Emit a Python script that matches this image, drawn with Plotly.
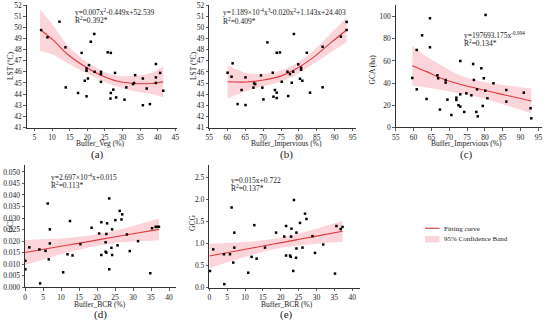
import plotly.graph_objects as go

W, H = 550, 324

# ---------------- data ----------------
# (a) LST vs Buffer_Veg
a_x = [6.9, 8.7, 12.1, 13.8, 13.9, 17.4, 18.4, 19.3, 19.8, 19.8, 19.8, 20.2, 20.5, 21.0, 22.0, 22.1,
       23.9, 23.9, 23.9, 25.8, 26.7, 26.7, 26.6, 27.4, 27.9, 28.2, 30.6, 31.1, 33.0, 33.3, 33.6, 35.8,
       35.8, 36.9, 37.8, 39.5, 39.5, 39.5, 40.7, 41.6]
a_y = [49.75, 49.1, 50.5, 48.2, 44.6, 44.1, 47.7, 45.2, 46.3, 46.1, 43.8, 45.4, 46.6, 48.7, 49.4, 46.0,
       46.0, 45.8, 45.1, 47.75, 47.7, 44.1, 43.6, 44.4, 45.9, 43.7, 43.5, 44.6, 44.9, 45.0, 45.7, 45.4,
       43.0, 44.5, 43.1, 45.5, 46.7, 45.0, 45.9, 44.3]
a_fx = [6.6, 10.5, 14.3, 20.0, 23.9, 28.7, 33.4, 38.2, 41.6]
a_fy = [49.8, 48.8, 47.6, 46.35, 45.7, 45.15, 44.95, 44.95, 45.1]
a_lo = [47.9, 47.5, 46.8, 45.85, 45.25, 44.65, 44.25, 44.0, 43.7]
a_hi = [51.6, 50.1, 48.4, 46.85, 46.15, 45.65, 45.65, 45.9, 46.5]

# (b) LST vs Buffer_Impervious
b_x = [60.1, 61.2, 61.5, 62.9, 64.0, 65.1, 65.1, 67.3, 67.5, 67.8, 69.4, 69.8, 70.1, 71.2, 72.7, 72.9,
       73.3, 73.8, 73.8, 73.8, 74.7, 75.2, 76.8, 77.0, 77.5, 78.0, 78.4, 78.6, 79.8, 80.3, 80.6, 80.6,
       80.95, 82.2, 83.1, 86.6, 86.6, 91.7, 93.3, 93.3]
b_y = [45.93, 45.57, 46.77, 43.12, 44.38, 45.51, 43.03, 44.59, 44.97, 44.91, 45.69, 44.59, 43.54, 48.65,
       45.93, 43.78, 44.38, 44.14, 43.66, 47.72, 47.75, 45.12, 46.02, 43.84, 45.81, 45.03, 46.02, 49.40,
       46.68, 45.39, 46.38, 46.2, 45.21, 47.72, 44.14, 48.26, 44.62, 49.16, 50.48, 49.76]
b_fx = [60.1, 65.4, 70.1, 74.7, 79.4, 84.0, 88.7, 93.3]
b_fy = [45.12, 45.1, 45.27, 45.6, 46.3, 47.3, 48.56, 49.76]
b_lo = [43.62, 44.3, 44.72, 45.1, 45.8, 46.7, 47.71, 48.66]
b_hi = [46.62, 45.9, 45.82, 46.1, 46.8, 47.9, 49.41, 50.86]

# (c) GCA vs Buffer_Impervious
c_x = [59.65, 60.9, 60.9, 62.4, 63.65, 64.6, 64.6, 66.7, 66.9, 67.4, 69.0, 69.0, 69.5, 70.6, 72.0, 72.0,
       72.6, 73.1, 73.1, 73.1, 74.2, 74.8, 76.2, 76.7, 76.9, 77.6, 77.8, 78.0, 79.0, 79.4, 79.7, 80.1,
       80.2, 80.7, 82.4, 86.0, 86.0, 90.9, 92.8, 93.0]
c_y = [44.6, 69.9, 34.3, 83.1, 25.6, 98.5, 72.3, 47.0, 44.3, 16.0, 42.8, 40.4, 25.0, 11.1, 26.8, 24.7,
       19.9, 59.9, 29.8, 18.7, 13.9, 30.7, 28.9, 57.2, 42.8, 13.9, 34.3, 9.9, 53.3, 19.3, 44.3, 33.1,
       101.5, 26.2, 39.8, 33.7, 23.2, 31.3, 17.2, 8.1]
c_fx = [59.65, 63.65, 68.3, 73.0, 77.6, 82.3, 86.9, 93.0]
c_fy = [55.7, 50.3, 43.7, 38.9, 35.2, 31.6, 28.3, 23.8]
c_lo = [37.5, 36.0, 33.5, 30.5, 27.5, 23.5, 19.0, 12.5]
c_hi = [73.5, 64.0, 55.0, 47.0, 42.5, 39.5, 37.5, 35.0]

# (d) GCI vs Buffer_BCR
d_x = [0.1, 0.1, 1.2, 4.0, 4.2, 5.7, 6.3, 6.6, 6.9, 6.9, 10.6, 11.8, 12.5, 13.2, 15.4, 18.5, 20.6, 21.2,
       21.2, 22.4, 22.4, 22.6, 22.6, 22.8, 23.4, 23.4, 24.0, 24.2, 24.2, 25.1, 25.7, 26.3, 26.8, 27.0,
       28.3, 29.1, 31.4, 34.8, 35.3, 36.3, 36.8, 37.2]
d_y = [0.0115, 0.0078, 0.0173, 0.0164, 0.0017, 0.0158, 0.0363, 0.0121, 0.0251, 0.0190, 0.0065, 0.0143,
       0.0287, 0.0138, 0.0187, 0.0258, 0.0233, 0.0282, 0.0140, 0.0195, 0.0154, 0.0150, 0.0231, 0.0277,
       0.0385, 0.0078, 0.0171, 0.0140, 0.0251, 0.0291, 0.0182, 0.0331, 0.0294, 0.0316, 0.0229, 0.0157,
       0.0200, 0.0061, 0.0256, 0.0262, 0.0262, 0.0262]
d_fx = [0, 6, 12, 18, 24, 30, 37.2]
d_fy = [0.0151, 0.0167, 0.0183, 0.0199, 0.0216, 0.0232, 0.0251]
d_lo = [0.0097, 0.0125, 0.0152, 0.0174, 0.0190, 0.0198, 0.0204]
d_hi = [0.0205, 0.0209, 0.0214, 0.0224, 0.0242, 0.0266, 0.0298]

# (e) GCG vs Buffer_BCR
e_x = [0.2, 1.1, 4.1, 4.2, 5.8, 6.25, 6.7, 7.0, 7.0, 10.9, 11.85, 12.6, 13.25, 15.6, 18.7, 21.0, 21.5,
       21.5, 22.6, 22.8, 22.9, 23.0, 23.7, 23.5, 24.3, 24.4, 24.4, 25.4, 26.1, 26.8, 27.2, 28.9, 29.6,
       31.9, 35.2, 35.6, 36.8, 37.3]
e_y = [0.38, 0.87, 0.76, 0.08, 0.76, 1.82, 0.57, 1.25, 0.91, 0.34, 0.70, 1.42, 0.66, 0.91, 1.25, 1.16,
       1.40, 0.73, 0.73, 0.70, 1.16, 1.34, 1.99, 0.38, 0.68, 1.25, 0.89, 1.47, 0.91, 1.68, 1.56, 1.17,
       0.79, 0.98, 0.32, 1.40, 1.33, 1.38]
e_fx = [0, 6, 12, 18, 24, 30, 37.3]
e_fy = [0.72, 0.81, 0.90, 0.99, 1.08, 1.17, 1.28]
e_lo = [0.44, 0.60, 0.75, 0.87, 0.95, 1.00, 1.04]
e_hi = [1.00, 1.02, 1.05, 1.11, 1.21, 1.34, 1.52]

# ---------------- style ----------------
FONT = "Liberation Serif"
TXT = "#1a1a1a"
RED = "#e0393e"
BAND = "rgba(246,150,160,0.40)"
AX = "#333333"


def px(x):
    return x / W


def py(y):
    return 1 - y / H


panels = [
    dict(x=a_x, y=a_y, fx=a_fx, fy=a_fy, lo=a_lo, hi=a_hi, xd=(26.7, 177), yd=(5, 127.5),
         xr=[2.8, 45.5], yr=[41, 52], xt=list(range(5, 46, 5)), yt=list(range(41, 53)), yf=None),
    dict(x=b_x, y=b_y, fx=b_fx, fy=b_fy, lo=b_lo, hi=b_hi, xd=(209.3, 356.3), yd=(5, 127.7),
         xr=[55, 96], yr=[41, 52], xt=list(range(55, 96, 5)), yt=list(range(41, 53)), yf=None),
    dict(x=c_x, y=c_y, fx=c_fx, fy=c_fy, lo=c_lo, hi=c_hi, xd=(395.7, 542), yd=(5, 127.3),
         xr=[55, 96], yr=[0, 110.5], xt=list(range(55, 96, 5)), yt=list(range(0, 101, 20)), yf=None),
    dict(x=d_x, y=d_y, fx=d_fx, fy=d_fy, lo=d_lo, hi=d_hi, xd=(25, 176.2), yd=(165.2, 287.3),
         xr=[0, 42], yr=[0, 0.0529], xt=list(range(0, 41, 5)),
         yt=[0.0, 0.005, 0.01, 0.015, 0.02, 0.025, 0.03, 0.035, 0.04, 0.045, 0.05], yf=".3f"),
    dict(x=e_x, y=e_y, fx=e_fx, fy=e_fy, lo=e_lo, hi=e_hi, xd=(209.3, 360), yd=(165.2, 287.7),
         xr=[0, 42.2], yr=[0, 2.78], xt=list(range(0, 41, 5)), yt=[0, 0.5, 1.0, 1.5, 2.0, 2.5], yf=".1f"),
]

fig = go.Figure()
layout = {}
for i, p in enumerate(panels, start=1):
    sx = "" if i == 1 else str(i)
    xa, ya = "x" + sx, "y" + sx
    fig.add_trace(go.Scatter(x=p["fx"], y=p["lo"], mode="lines", line=dict(width=0, shape="spline"),
                             xaxis=xa, yaxis=ya, showlegend=False, hoverinfo="skip"))
    fig.add_trace(go.Scatter(x=p["fx"], y=p["hi"], mode="lines", line=dict(width=0, shape="spline"),
                             fill="tonexty", fillcolor=BAND, xaxis=xa, yaxis=ya, showlegend=False,
                             hoverinfo="skip"))
    fig.add_trace(go.Scatter(x=p["fx"], y=p["fy"], mode="lines", line=dict(color=RED, width=1.1, shape="spline"),
                             xaxis=xa, yaxis=ya, showlegend=False))
    fig.add_trace(go.Scatter(x=p["x"], y=p["y"], mode="markers",
                             marker=dict(symbol="square", size=2.5, color="black"),
                             xaxis=xa, yaxis=ya, showlegend=False, cliponaxis=False))
    common = dict(showline=True, linecolor=AX, linewidth=1, ticks="outside", ticklen=2.5,
                  tickcolor=AX, tickwidth=0.8, showgrid=False, zeroline=False, automargin=False,
                  tickfont=dict(family=FONT, size=7.5, color=TXT))
    layout["xaxis" + sx] = dict(domain=[px(p["xd"][0]), px(p["xd"][1])], range=p["xr"],
                                tickmode="array", tickvals=p["xt"], anchor=ya, **common)
    ydict = dict(domain=[py(p["yd"][1]), py(p["yd"][0])], range=p["yr"], tickmode="array",
                 tickvals=p["yt"], anchor=xa, **common)
    if p["yf"]:
        ydict["tickformat"] = p["yf"]
    layout["yaxis" + sx] = ydict

fig.update_layout(template="none", **layout)

ann = []


def text(x, y, s, size=7.5, xanchor="left", angle=0):
    ann.append(dict(x=px(x), y=py(y), xref="paper", yref="paper", text=s, showarrow=False,
                    xanchor=xanchor, yanchor="middle", textangle=angle,
                    font=dict(family=FONT, size=size, color=TXT)))


# equations
text(73, 12, "y=0.007x<sup>2</sup>-0.449x+52.539")
text(73, 20.3, "R<sup>2</sup>=0.392*")
text(220.7, 12.3, "y=1.189×10<sup>-4</sup>x<sup>3</sup>-0.020x<sup>2</sup>+1.143x+24.403")
text(220.7, 20.7, "R<sup>2</sup>=0.409*")
text(461.7, 35, "y=197693.175x<sup>-0.994</sup>")
text(461.7, 43.3, "R<sup>2</sup>=0.134*")
text(49.3, 176.7, "y=2.697×10<sup>-4</sup>x+0.015")
text(49.3, 185, "R<sup>2</sup>=0.113*")
text(229.3, 180, "y=0.015x+0.722")
text(229.3, 188.3, "R<sup>2</sup>=0.137*")

# axis titles
text(10, 66, "LST (°C)", xanchor="center", angle=-90)
text(193, 66, "LST (°C)", xanchor="center", angle=-90)
text(372.5, 70, "GCA (ha)", xanchor="center", angle=-90)
text(9.5, 226, "GCI", xanchor="center", angle=-90)
text(193, 223, "GCG", xanchor="center", angle=-90)

text(100, 143.5, "Buffer_Veg (%)", xanchor="center")
text(286.7, 143.5, "Buffer_Impervious (%)", xanchor="center")
text(466.7, 143.5, "Buffer_Impervious (%)", xanchor="center")
text(100, 304, "Buffer_BCR (%)", xanchor="center")
text(286.7, 304, "Buffer_BCR (%)", xanchor="center")

text(97, 154.5, "(a)", size=11, xanchor="center")
text(286.7, 154.5, "(b)", size=11, xanchor="center")
text(466.7, 154.5, "(c)", size=11, xanchor="center")
text(100, 314.5, "(d)", size=11, xanchor="center")
text(286.7, 314.5, "(e)", size=11, xanchor="center")

# legend
text(441.5, 228.5, "Fitting curve", size=7)
text(441.5, 239.3, "95% Confidence Band", size=7)
shapes = [
    dict(type="line", xref="paper", yref="paper", x0=px(425), x1=px(439.5), y0=py(228.3), y1=py(228.3),
         line=dict(color=RED, width=1.1)),
    dict(type="rect", xref="paper", yref="paper", x0=px(425), x1=px(439.5), y0=py(242.5), y1=py(236),
         fillcolor=BAND, line=dict(width=0)),
]

fig.update_layout(width=W, height=H, margin=dict(l=0, r=0, t=0, b=0, pad=0), paper_bgcolor="white",
                  plot_bgcolor="white", annotations=ann, shapes=shapes, showlegend=False,
                  font=dict(family=FONT, color=TXT))

fig.write_html("out.html", config={"displayModeBar": False, "staticPlot": True},
               post_script="document.body.style.margin='0';document.body.style.padding='0';"
                           "document.body.style.overflow='hidden';")
